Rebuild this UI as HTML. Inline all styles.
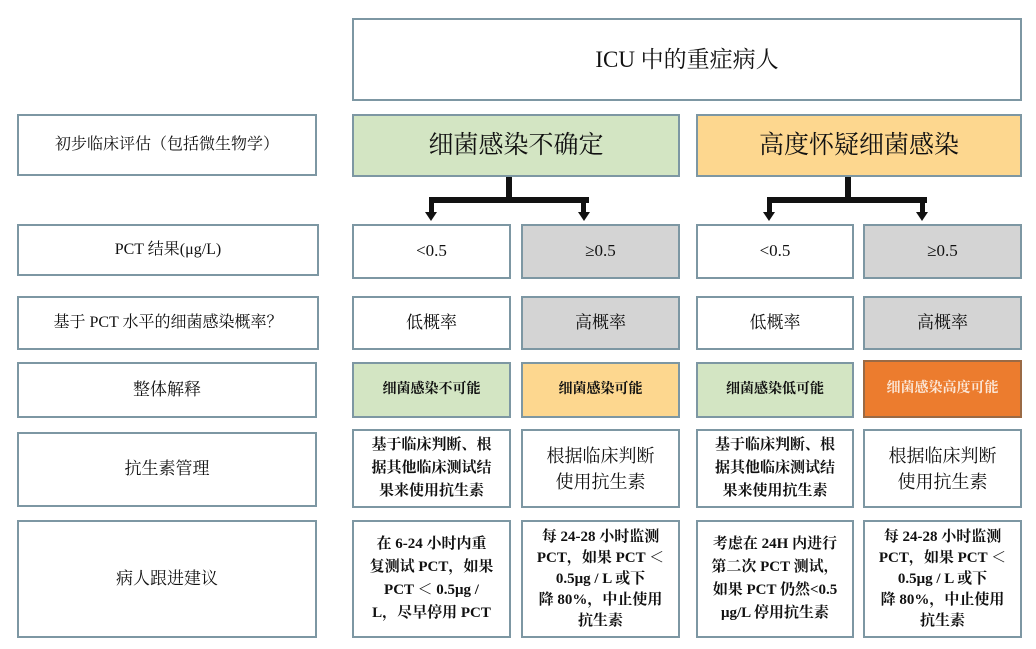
<!DOCTYPE html>
<html><head><meta charset="utf-8"><style>
body{margin:0;width:1036px;height:649px;background:#fff;position:relative;overflow:hidden;font-family:"Liberation Serif","Noto Serif CJK SC",serif;color:#111}
.b{position:absolute;box-sizing:border-box;border:2px solid #7d97a3;background:#fff;display:flex;align-items:center;justify-content:center;text-align:center;font-size:16px;line-height:1.35}
.g{background:#d3e5c3}.o{background:#fdd78f}.gr{background:#d4d4d4}.do{background:#ec7c2e;color:#fbe6d6;border-color:#9a6a45}
.bold{font-weight:bold}
.ln{position:absolute;background:#111}
.ar{position:absolute;width:0;height:0;border-left:6px solid transparent;border-right:6px solid transparent;border-top:9px solid #111}
.t{line-height:23px;font-size:15px}
.t5{line-height:21px;font-size:15px}
</style></head><body>
<div class="b" style="left:352px;top:18px;width:670px;height:83px;font-size:23px">ICU 中的重症病人</div>

<div class="b" style="left:17px;top:114px;width:300px;height:62px">初步临床评估（包括微生物学）</div>
<div class="b" style="left:17px;top:224px;width:302px;height:52px">PCT 结果(μg/L)</div>
<div class="b" style="left:17px;top:296px;width:302px;height:54px">基于 PCT 水平的细菌感染概率？</div>
<div class="b" style="left:17px;top:362px;width:300px;height:56px;font-size:17px">整体解释</div>
<div class="b" style="left:17px;top:432px;width:300px;height:75px;font-size:17px">抗生素管理</div>
<div class="b" style="left:17px;top:520px;width:300px;height:118px;font-size:17px">病人跟进建议</div>

<div class="b g" style="left:352px;top:114px;width:328px;height:63px;font-size:25px">细菌感染不确定</div>
<div class="b o" style="left:696px;top:114px;width:326px;height:63px;font-size:25px">高度怀疑细菌感染</div>

<div class="ln" style="left:506px;top:177px;width:6px;height:25px"></div>
<div class="ln" style="left:429px;top:197px;width:160px;height:6px"></div>
<div class="ln" style="left:429px;top:197px;width:5px;height:17px"></div>
<div class="ln" style="left:581px;top:197px;width:5px;height:17px"></div>
<div class="ar" style="left:425px;top:212px"></div>
<div class="ar" style="left:578px;top:212px"></div>
<div class="ln" style="left:845px;top:177px;width:6px;height:25px"></div>
<div class="ln" style="left:767px;top:197px;width:160px;height:6px"></div>
<div class="ln" style="left:767px;top:197px;width:5px;height:17px"></div>
<div class="ln" style="left:920px;top:197px;width:5px;height:17px"></div>
<div class="ar" style="left:763px;top:212px"></div>
<div class="ar" style="left:916px;top:212px"></div>

<div class="b" style="left:352px;top:224px;width:159px;height:55px;font-size:17px">&lt;0.5</div>
<div class="b gr" style="left:521px;top:224px;width:159px;height:55px;font-size:17px">≥0.5</div>
<div class="b" style="left:696px;top:224px;width:158px;height:55px;font-size:17px">&lt;0.5</div>
<div class="b gr" style="left:863px;top:224px;width:159px;height:55px;font-size:17px">≥0.5</div>

<div class="b" style="left:352px;top:296px;width:159px;height:54px;font-size:17px">低概率</div>
<div class="b gr" style="left:521px;top:296px;width:159px;height:54px;font-size:17px">高概率</div>
<div class="b" style="left:696px;top:296px;width:158px;height:54px;font-size:17px">低概率</div>
<div class="b gr" style="left:863px;top:296px;width:159px;height:54px;font-size:17px">高概率</div>

<div class="b g bold" style="left:352px;top:362px;width:159px;height:56px;font-size:14px">细菌感染不可能</div>
<div class="b o bold" style="left:521px;top:362px;width:159px;height:56px;font-size:14px">细菌感染可能</div>
<div class="b g bold" style="left:696px;top:362px;width:158px;height:56px;font-size:14px">细菌感染低可能</div>
<div class="b do bold" style="left:863px;top:360px;width:159px;height:58px;font-size:14px">细菌感染高度可能</div>

<div class="b bold t" style="left:352px;top:429px;width:159px;height:79px">基于临床判断、根<br>据其他临床测试结<br>果来使用抗生素</div>
<div class="b" style="left:521px;top:429px;width:159px;height:79px;font-size:18px;line-height:26px">根据临床判断<br>使用抗生素</div>
<div class="b bold t" style="left:696px;top:429px;width:158px;height:79px">基于临床判断、根<br>据其他临床测试结<br>果来使用抗生素</div>
<div class="b" style="left:863px;top:429px;width:159px;height:79px;font-size:18px;line-height:26px">根据临床判断<br>使用抗生素</div>

<div class="b bold t" style="left:352px;top:520px;width:159px;height:118px">在 6-24 小时内重<br>复测试 PCT，如果<br>PCT ＜ 0.5μg /<br>L，尽早停用 PCT</div>
<div class="b bold t5" style="left:521px;top:520px;width:159px;height:118px">每 24-28 小时监测<br>PCT，如果 PCT ＜<br>0.5μg / L 或下<br>降 80%，中止使用<br>抗生素</div>
<div class="b bold t" style="left:696px;top:520px;width:158px;height:118px">考虑在 24H 内进行<br>第二次 PCT 测试，<br>如果 PCT 仍然&lt;0.5<br>μg/L 停用抗生素</div>
<div class="b bold t5" style="left:863px;top:520px;width:159px;height:118px">每 24-28 小时监测<br>PCT，如果 PCT ＜<br>0.5μg / L 或下<br>降 80%，中止使用<br>抗生素</div>
</body></html>
